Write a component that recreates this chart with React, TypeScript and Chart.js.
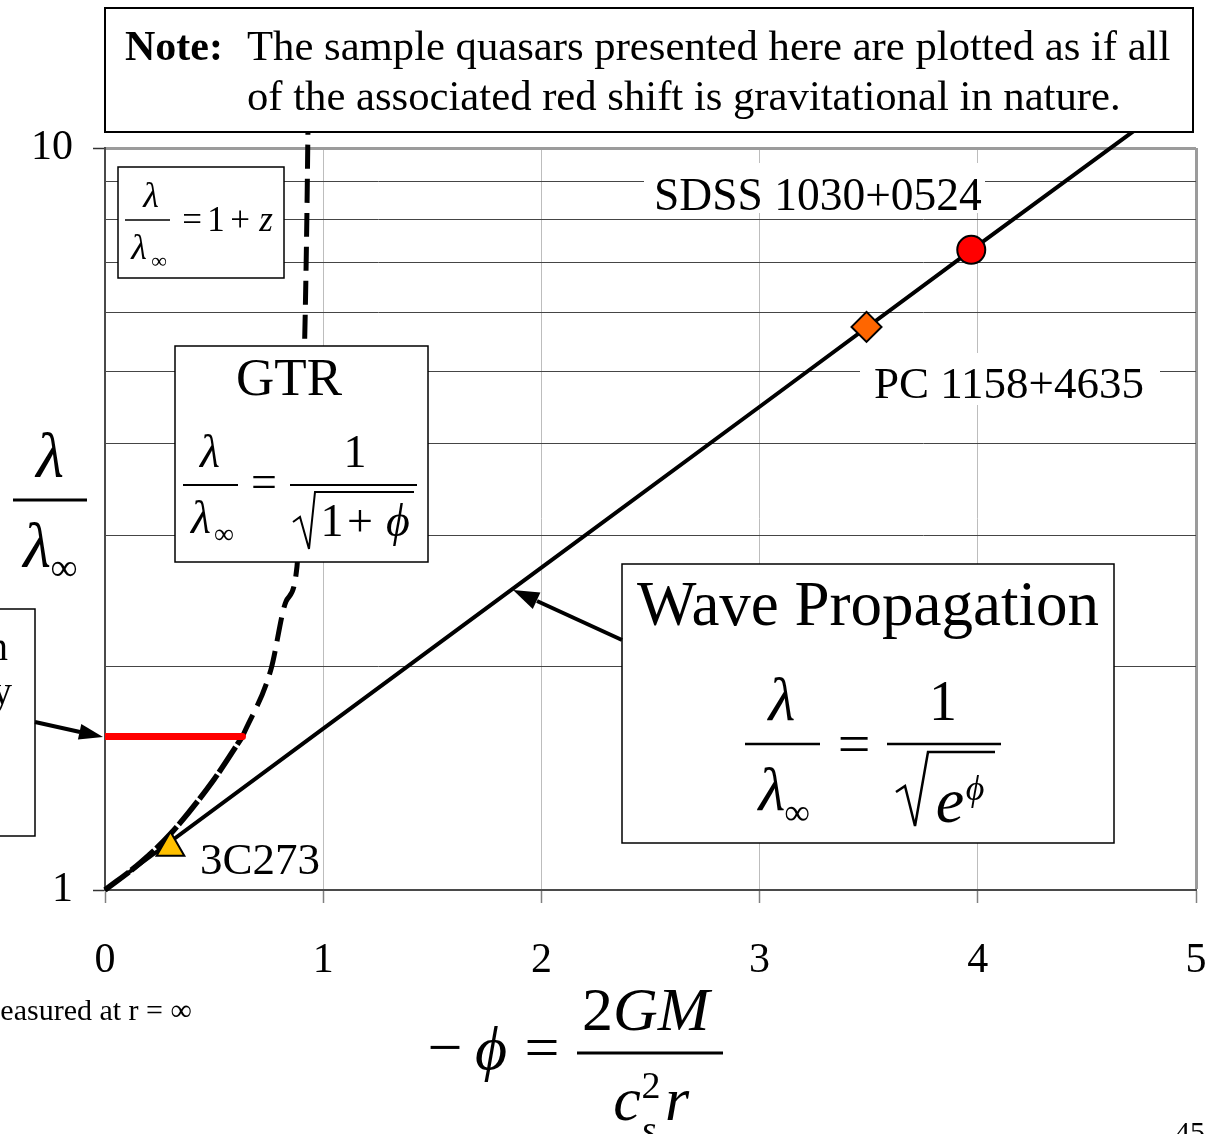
import React, { useEffect, useRef } from 'react';
import { Chart, registerables } from 'chart.js';
Chart.register(...registerables);

const FONT = "'Liberation Serif', 'Times New Roman', serif";

// axis ticks
const xTicks = [0, 1, 2, 3, 4, 5];
const yGridTicks = [1, 2, 3, 4, 5, 6, 7, 8, 9, 10];
const yLabelTicks = [1, 10];

// Wave propagation curve (continues under the note box)
const waveX = [0, 1, 2, 3, 4, 4.8];
const waveY = [1, 1.65, 2.72, 4.48, 7.39, 11.0];

// GTR curve, lower (solid-ish) part
const gtrLowX = [0, 0.16, 0.3, 0.5, 0.63];
const gtrLowY = [1, 1.087, 1.19, 1.41, 1.61];

// GTR curve, upper dashed part
const gtrUpX = [0.63, 0.76, 0.83, 0.88, 0.9, 0.915, 0.925, 0.93];
const gtrUpY = [1.61, 1.98, 2.45, 2.73, 4.0, 5.5, 8.0, 10.5];

// red horizontal segment
const redX = [0, 0.63];
const redY = [1.61, 1.61];

// quasars
const quasarNames = ['3C273', 'PC 1158+4635', 'SDSS 1030+0524'];
const quasarX = [0.3, 3.49, 3.97];
const quasarY = [1.14, 5.74, 7.29];

const pts = (xs: number[], ys: number[]) => xs.map((x, i) => ({ x, y: ys[i] }));

export default function App() {
  const ref = useRef<HTMLCanvasElement>(null);
  useEffect(() => {
    const cv = ref.current;
    if (!cv) return;
    const chart = new Chart(cv, {
      type: 'scatter',
      data: {
        datasets: [
          {
            label: quasarNames[0],
            data: [{ x: quasarX[0], y: quasarY[0] }],
            pointStyle: 'triangle',
            pointRadius: 16,
            pointBackgroundColor: '#FFC000',
            pointBorderColor: '#000',
            pointBorderWidth: 2,
            order: 0,
          },
          {
            label: quasarNames[1],
            data: [{ x: quasarX[1], y: quasarY[1] }],
            pointStyle: 'rectRot',
            pointRadius: 15,
            pointBackgroundColor: '#FF6600',
            pointBorderColor: '#000',
            pointBorderWidth: 2,
            order: 0,
          },
          {
            label: quasarNames[2],
            data: [{ x: quasarX[2], y: quasarY[2] }],
            pointStyle: 'circle',
            pointRadius: 14,
            pointBackgroundColor: '#FF0000',
            pointBorderColor: '#000',
            pointBorderWidth: 2,
            order: 0,
          },
          {
            label: 'red',
            data: pts(redX, redY),
            showLine: true,
            pointRadius: 0,
            borderColor: '#FF0000',
            borderWidth: 7,
            borderCapStyle: 'round',
            order: 1,
          },
          {
            label: 'wave',
            data: pts(waveX, waveY),
            showLine: true,
            pointRadius: 0,
            borderColor: '#000',
            borderWidth: 4,
            clip: false,
            order: 2,
          },
          {
            label: 'gtrLow',
            data: pts(gtrLowX, gtrLowY),
            showLine: true,
            pointRadius: 0,
            borderColor: '#000',
            borderWidth: 5.5,
            borderDash: [30, 3],
            cubicInterpolationMode: 'monotone',
            clip: false,
            order: 3,
          },
          {
            label: 'gtrUp',
            data: pts(gtrUpX, gtrUpY),
            showLine: true,
            pointRadius: 0,
            borderColor: '#000',
            borderWidth: 5,
            borderDash: [24, 10],
            cubicInterpolationMode: 'monotone',
            clip: false,
            order: 3,
          },
        ],
      },
      options: {
        responsive: false,
        animation: false,
        devicePixelRatio: 1,
        events: [],
        layout: { padding: { top: 148, right: 26, left: 0, bottom: 0 } },
        plugins: { legend: { display: false }, tooltip: { enabled: false } },
        scales: {
          x: {
            type: 'linear',
            min: 0,
            max: 5,
            afterFit: (s: any) => { s.height = 244; s.paddingRight = 0; s.paddingLeft = 0; },
            afterBuildTicks: (s: any) => { s.ticks = xTicks.map((v) => ({ value: v })); },
            ticks: {
              color: '#000',
              font: { family: FONT, size: 42 },
              padding: 33,
              maxRotation: 0,
              autoSkip: false,
            },
            grid: {
              color: (c: any) => (c.tick.value === 0 ? 'rgba(0,0,0,0)' : c.tick.value === 5 ? '#9b9b9b' : '#bdbdbd'),
              lineWidth: (c: any) => (c.tick.value === 5 ? 3 : 1),
              tickLength: 13,
              tickColor: '#808080',
              tickWidth: 1.5,
            },
            border: { color: '#4a4a4a', width: 2 },
          },
          y: {
            type: 'logarithmic',
            min: 1,
            max: 10,
            afterFit: (s: any) => { s.width = 105; },
            afterBuildTicks: (s: any) => { s.ticks = yGridTicks.map((v) => ({ value: v })); },
            ticks: {
              color: '#000',
              font: { family: FONT, size: 42 },
              padding: 20,
              autoSkip: false,
              callback: (v: any) => (yLabelTicks.includes(Number(v)) ? String(v) : ''),
            },
            grid: {
              color: (c: any) => (c.tick.value === 1 ? 'rgba(0,0,0,0)' : c.tick.value === 10 ? '#9b9b9b' : '#454545'),
              lineWidth: (c: any) => (c.tick.value === 10 ? 3 : 1),
              tickLength: 12,
              tickWidth: 1.5,
              tickColor: (c: any) => (yLabelTicks.includes(c.tick.value) ? '#333' : 'rgba(0,0,0,0)'),
            },
            border: { color: '#4a4a4a', width: 2 },
          },
        },
      },
    } as any);
    return () => chart.destroy();
  }, []);

  const t = (x: number, y: number, size: number, s: React.ReactNode, extra: any = {}) => (
    <text x={x} y={y} fontSize={size} fontFamily={FONT} fill="#000" {...extra}>{s}</text>
  );
  const mid = { textAnchor: 'middle' };
  const midIt = { textAnchor: 'middle', fontStyle: 'italic' };

  return (
    <div style={{ position: 'fixed', left: 0, top: 0, width: 1222, height: 1134, overflow: 'hidden', background: '#fff' }}>
      <canvas ref={ref} width={1222} height={1134} style={{ position: 'absolute', left: 0, top: 0, width: 1222, height: 1134 }} />
      <svg width={1222} height={1134} style={{ position: 'absolute', left: 0, top: 0, pointerEvents: 'none' }}>
        {/* Note box */}
        <rect x={105} y={8} width={1088} height={124} fill="#fff" stroke="#000" strokeWidth={2} />
        {t(125, 60, 42, 'Note:', { fontWeight: 'bold' })}
        {t(247, 60, 42.7, 'The sample quasars presented here are plotted as if all')}
        {t(247, 110, 42.7, 'of the associated red shift is gravitational in nature.')}

        {/* small 1+z box */}
        <rect x={118} y={167} width={166} height={111} fill="#fff" stroke="#000" strokeWidth={1.5} />
        {t(151, 207, 36, 'λ', midIt)}
        <line x1={125} y1={220} x2={170} y2={220} stroke="#000" strokeWidth={1.5} />
        {t(139, 259, 36, 'λ', midIt)}
        {t(159, 268, 22, '∞', mid)}
        {t(192, 231, 35, '=', mid)}
        {t(216, 231, 35, '1', mid)}
        {t(240, 231, 35, '+', mid)}
        {t(266, 231, 35, 'z', midIt)}

        {/* GTR box */}
        <rect x={175} y={346} width={253} height={216} fill="#fff" stroke="#000" strokeWidth={1.5} />
        {t(289, 395, 53, 'GTR', mid)}
        {t(210, 467, 46, 'λ', midIt)}
        <line x1={183} y1={485} x2={238} y2={485} stroke="#000" strokeWidth={2} />
        {t(201, 533, 46, 'λ', midIt)}
        {t(224, 543, 28, '∞', mid)}
        {t(264, 497, 46, '=', mid)}
        {t(355, 467, 46, '1', mid)}
        <line x1={290} y1={485} x2={417} y2={485} stroke="#000" strokeWidth={2} />
        <path d="M293,522 L300,517 L309,549 L315,492 L414,492" fill="none" stroke="#000" strokeWidth={2} />
        {t(332, 536, 46, '1', mid)}
        {t(360, 536, 46, '+', mid)}
        {t(398, 536, 46, 'ϕ', midIt)}

        {/* Wave propagation box */}
        <rect x={622} y={564} width={492} height={279} fill="#fff" stroke="#000" strokeWidth={1.5} />
        {t(868, 625, 63, 'Wave Propagation', mid)}
        {t(782, 720, 62, 'λ', midIt)}
        <line x1={745} y1={744} x2={820} y2={744} stroke="#000" strokeWidth={2.5} />
        {t(772, 810, 62, 'λ', midIt)}
        {t(797, 824, 36, '∞', mid)}
        {t(854, 763, 58, '=', mid)}
        {t(943, 720, 56, '1', mid)}
        <line x1={887} y1={744} x2={1001} y2={744} stroke="#000" strokeWidth={2.5} />
        <path d="M896,792 L905,786 L915,826 L928,752 L995,752" fill="none" stroke="#000" strokeWidth={2.5} />
        {t(950, 822, 64, 'e', midIt)}
        {t(975, 800, 36, 'ϕ', midIt)}

        {/* wave arrow */}
        <line x1={622} y1={640} x2={537} y2={601} stroke="#000" strokeWidth={4} />
        <polygon points="513,590 540.4,592.6 532.8,609" fill="#000" />

        {/* left partial box */}
        <rect x={-10} y={609} width={45} height={227} fill="#fff" stroke="#000" strokeWidth={1.5} />
        {t(8, 660, 40, 'n', { textAnchor: 'end' })}
        {t(12, 704, 40, 'y', { textAnchor: 'end' })}
        <line x1={35} y1={722} x2={80} y2={732} stroke="#000" strokeWidth={4} />
        <polygon points="103,737 77.9,739.6 81.3,724" fill="#000" />

        {/* y axis title */}
        {t(50, 477, 64, 'λ', midIt)}
        <line x1={13} y1={500} x2={87} y2={500} stroke="#000" strokeWidth={3} />
        {t(37, 567, 64, 'λ', midIt)}
        {t(64, 580, 38, '∞', mid)}

        {/* x axis title */}
        {t(445, 1068, 62, '−', mid)}
        {t(491, 1069, 62, 'ϕ', midIt)}
        {t(542, 1068, 62, '=', mid)}
        <text x={582} y={1030} fontSize={62} fontFamily={FONT} fill="#000">
          2<tspan fontStyle="italic">GM</tspan>
        </text>
        <line x1={577} y1={1053} x2={723} y2={1053} stroke="#000" strokeWidth={3} />
        {t(627, 1120, 62, 'c', midIt)}
        {t(651, 1098, 38, '2', mid)}
        {t(649, 1142, 38, 's', midIt)}
        {t(677, 1120, 62, 'r', midIt)}

        {/* quasar labels */}
        {t(200, 874, 45, quasarNames[0])}
        <rect x={860} y={353} width={300} height={52} fill="#fff" />
        {t(874, 398, 45, quasarNames[1])}
        <rect x={644} y={163} width={341} height={50} fill="#fff" />
        {t(654, 210, 45.5, quasarNames[2])}

        {/* footer texts */}
        {t(-23, 1020, 30, 'measured at r = ∞')}
        {t(1175, 1142, 30, '45')}
      </svg>
    </div>
  );
}
